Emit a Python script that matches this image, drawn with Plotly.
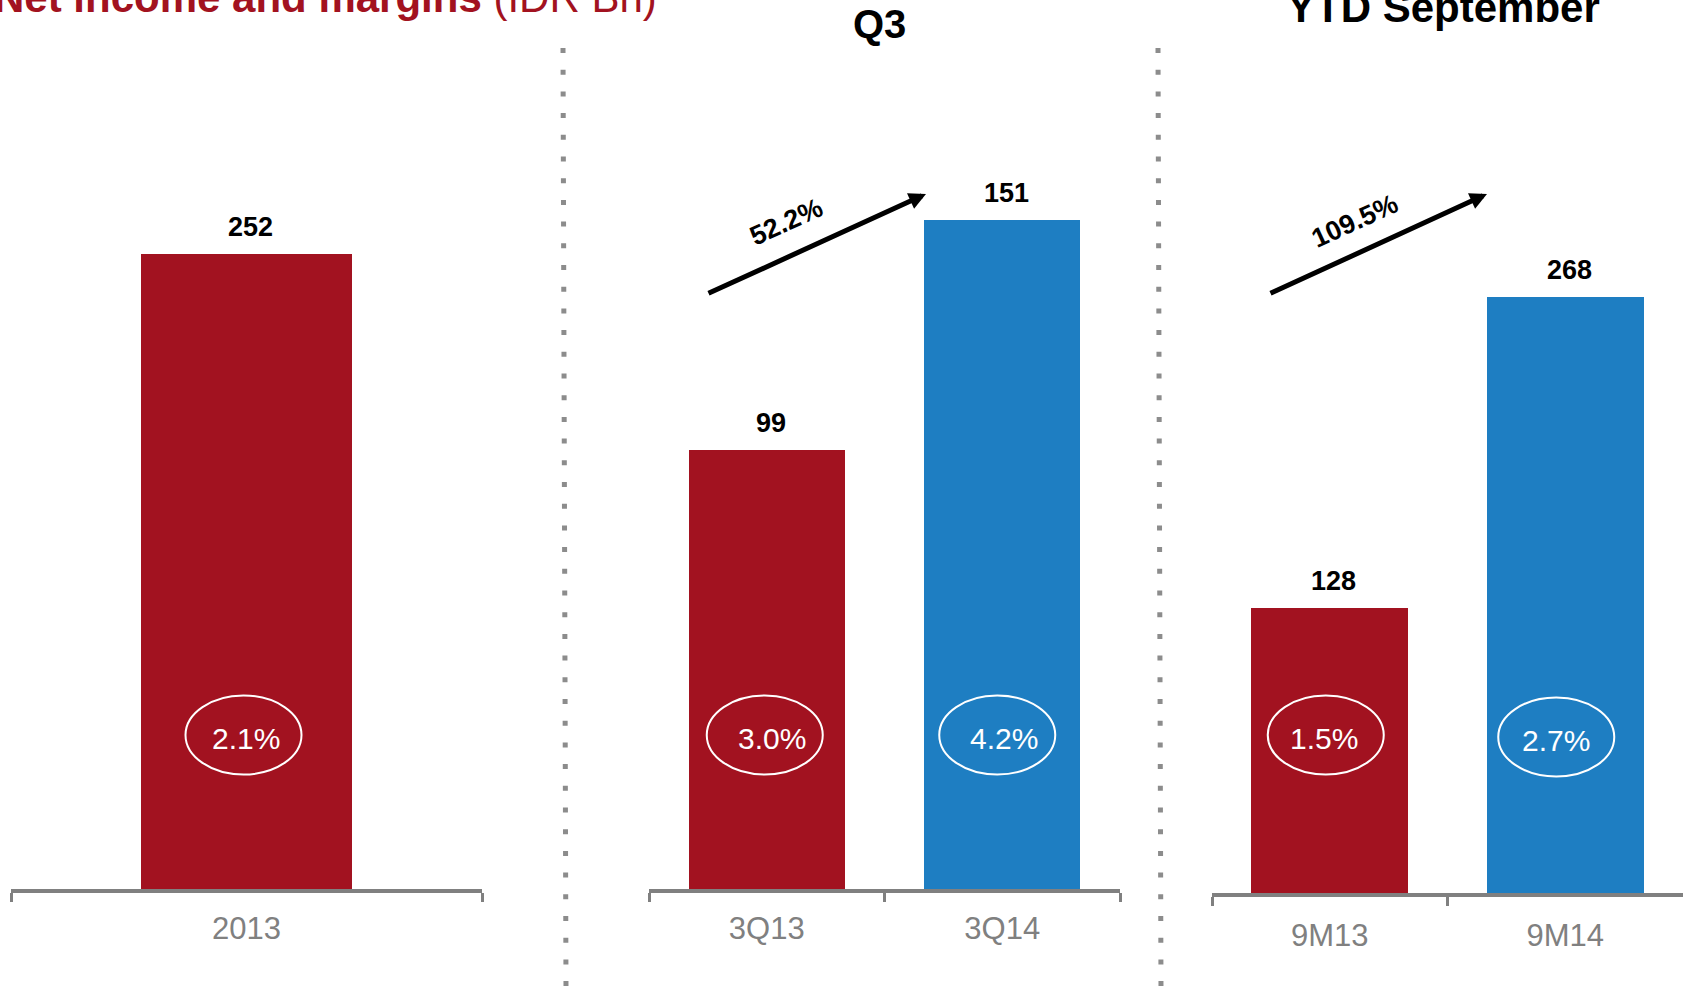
import plotly.graph_objects as go

# ---------------- data ----------------
FY_CATEGORIES = ["2013"]
FY_VALUES = [252]
FY_MARGINS = ["2.1%"]

Q3_CATEGORIES = ["3Q13", "3Q14"]
Q3_VALUES = [99, 151]
Q3_MARGINS = ["3.0%", "4.2%"]
Q3_GROWTH = "52.2%"

YTD_CATEGORIES = ["9M13", "9M14"]
YTD_VALUES = [128, 268]
YTD_MARGINS = ["1.5%", "2.7%"]
YTD_GROWTH = "109.5%"

TITLE_BOLD = "Net income and margins"
TITLE_UNIT = "(IDR Bn)"
Q3_HEADER = "Q3"
YTD_HEADER = "YTD September"

# ---------------- style ----------------
W, H = 1686, 991
RED = "#A21220"
BLUE = "#1E7EC2"
GRAY = "#808080"
DOT_GRAY = "#8C8C8C"
FONT = "Liberation Sans, Arial, sans-serif"


def px_x(p):
    return p / W


def px_y(p):
    return 1 - p / H


panels = [
    dict(cats=FY_CATEGORIES, vals=FY_VALUES, margins=FY_MARGINS, colors=[RED],
         xdom=(11, 482), bottom=889, ytop=352.8, width=0.446, standoff=9,
         ell_y=[735], ell_dx=[-3], txt_dx=[2]),
    dict(cats=Q3_CATEGORIES, vals=Q3_VALUES, margins=Q3_MARGINS, colors=[RED, BLUE],
         xdom=(649, 1120), bottom=889, ytop=200.7, width=0.662, standoff=9,
         ell_y=[735, 735], ell_dx=[-2, -5], txt_dx=[7, 7]),
    dict(cats=YTD_CATEGORIES, vals=YTD_VALUES, margins=YTD_MARGINS, colors=[RED, BLUE],
         xdom=(1212, 1683), bottom=893, ytop=401.3, width=0.667, standoff=12,
         ell_y=[735, 737], ell_dx=[-4, -9], txt_dx=[-2, 0]),
]

fig = go.Figure()
annotations = []
shapes = []
layout_axes = {}

for i, p in enumerate(panels):
    sfx = "" if i == 0 else str(i + 1)
    xname, yname = "x" + sfx, "y" + sfx
    fig.add_trace(go.Bar(
        x=p["cats"], y=p["vals"], marker=dict(color=p["colors"], line=dict(width=0)),
        width=p["width"], xaxis=xname, yaxis=yname, showlegend=False, hoverinfo="skip",
    ))
    n = len(p["cats"])
    layout_axes["xaxis" + sfx] = dict(
        type="category", domain=[px_x(p["xdom"][0]), px_x(p["xdom"][1])], anchor=yname,
        range=[-0.5, n - 0.5], showline=True, linecolor=GRAY, linewidth=4,
        ticks="outside", tickson="boundaries", ticklen=9, tickwidth=3, tickcolor=GRAY,
        ticklabelstandoff=p["standoff"],
        tickfont=dict(family=FONT, size=31, color=GRAY), showgrid=False, zeroline=False,
        fixedrange=True,
    )
    layout_axes["yaxis" + sfx] = dict(
        domain=[px_y(p["bottom"]), 1], range=[0, p["ytop"]], visible=False,
        anchor=xname, fixedrange=True,
    )
    for j, (c, v, m) in enumerate(zip(p["cats"], p["vals"], p["margins"])):
        annotations.append(dict(
            xref=xname, yref=yname, x=j, y=v, yanchor="bottom", yshift=10, xshift=4,
            text="<b>%d</b>" % v, showarrow=False,
            font=dict(family=FONT, size=27, color="black"),
        ))
        ey = px_y(p["ell_y"][j])
        dx = p["ell_dx"][j]
        shapes.append(dict(
            type="circle", xref=xname, yref="paper", xsizemode="pixel", ysizemode="pixel",
            xanchor=j, yanchor=ey, x0=dx - 58, x1=dx + 58, y0=-39.5, y1=39.5,
            line=dict(color="white", width=2),
        ))
        annotations.append(dict(
            xref=xname, yref="paper", x=j, y=ey, xshift=dx + p["txt_dx"][j], yshift=-3,
            xanchor="center", yanchor="middle", text=m, showarrow=False,
            font=dict(family=FONT, size=30, color="white"),
        ))

# dotted separators
for x0, x1 in [(563, 566), (1158, 1161)]:
    shapes.append(dict(
        type="line", xref="paper", yref="paper", x0=px_x(x0), y0=px_y(48),
        x1=px_x(x1), y1=px_y(991), line=dict(color=DOT_GRAY, width=5, dash="5px,16.7px"),
    ))

# growth arrows and labels
for (tip, tail, lab_pos, lab) in [
    ((926, 194), (707, 294), (786, 222), Q3_GROWTH),
    ((1487, 194), (1269, 294), (1355, 221), YTD_GROWTH),
]:
    annotations.append(dict(
        xref="paper", yref="paper", x=px_x(tip[0]), y=px_y(tip[1]),
        axref="pixel", ayref="pixel", ax=tail[0] - tip[0], ay=tail[1] - tip[1],
        text="", showarrow=True, arrowhead=2, arrowwidth=5, arrowsize=0.68,
        arrowcolor="black", standoff=0,
    ))
    annotations.append(dict(
        xref="paper", yref="paper", x=px_x(lab_pos[0]), y=px_y(lab_pos[1]),
        xanchor="center", yanchor="middle", textangle=-24.6, text="<b>%s</b>" % lab,
        showarrow=False, font=dict(family=FONT, size=27, color="black"),
    ))

# headers
annotations.append(dict(
    xref="paper", yref="paper", x=px_x(659), y=px_y(23), xanchor="right", yanchor="bottom",
    text="<b>%s</b> %s" % (TITLE_BOLD, TITLE_UNIT), showarrow=False,
    font=dict(family=FONT, size=42, color=RED),
))
annotations.append(dict(
    xref="paper", yref="paper", x=px_x(879), y=px_y(48), xanchor="center", yanchor="bottom",
    text="<b>%s</b>" % Q3_HEADER, showarrow=False, font=dict(family=FONT, size=40, color="black"),
))
annotations.append(dict(
    xref="paper", yref="paper", x=px_x(1443), y=px_y(33), xanchor="center", yanchor="bottom",
    text="<b>%s</b>" % YTD_HEADER, showarrow=False, font=dict(family=FONT, size=42, color="black"),
))

fig.update_layout(
    width=W, height=H, margin=dict(l=0, r=0, t=0, b=0),
    paper_bgcolor="white", plot_bgcolor="white",
    font=dict(family=FONT), bargap=0,
    annotations=annotations, shapes=shapes, **layout_axes,
)

fig.write_html(
    "out.html",
    config={"displayModeBar": False},
    post_script="document.body.style.margin='0';document.body.style.overflow='hidden';",
)
